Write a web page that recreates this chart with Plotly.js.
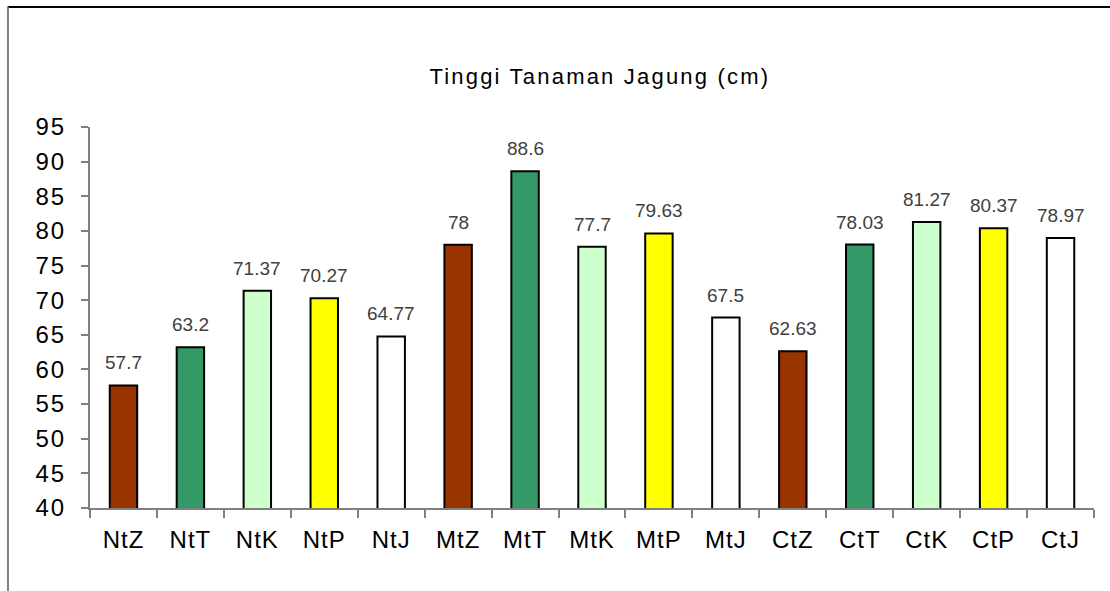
<!DOCTYPE html>
<html><head><meta charset="utf-8">
<script src="https://cdn.plot.ly/plotly-3.0.1.min.js"></script>
<style>
html,body{margin:0;padding:0;background:#fff;}
#chart{width:1110px;height:591px;}
#chart .ytick text{letter-spacing:2px;}
#chart .xtick text{letter-spacing:1px;}
#chart .annotation.title-ann text{letter-spacing:2.2px;}
</style>
</head><body><div id="chart"></div>
<script>
const categories = ["NtZ","NtT","NtK","NtP","NtJ","MtZ","MtT","MtK","MtP","MtJ","CtZ","CtT","CtK","CtP","CtJ"];
const heights = [57.7,63.2,71.37,70.27,64.77,78,88.6,77.7,79.63,67.5,62.63,78.03,81.27,80.37,78.97];
const labels = ["57.7","63.2","71.37","70.27","64.77","78","88.6","77.7","79.63","67.5","62.63","78.03","81.27","80.37","78.97"];
const colors = ["#993300","#339966","#CCFFCC","#FFFF00","#FFFFFF","#993300","#339966","#CCFFCC","#FFFF00","#FFFFFF","#993300","#339966","#CCFFCC","#FFFF00","#FFFFFF"];
const yTicks = [40,45,50,55,60,65,70,75,80,85,90,95];
const titleText = "Tinggi Tanaman Jagung (cm)";

const font = "Liberation Sans, Arial, sans-serif";
const trace = {
  type: "bar", x: categories, y: heights,
  marker: {color: colors, line: {color: "#000", width: 2}},
  hoverinfo: "none"
};
const annotations = categories.map((c,i)=>({
  x: c, y: heights[i], xref: "x", yref: "y", text: labels[i], showarrow: false,
  yanchor: "bottom", yshift: 10, font: {family: font, size: 19, color: "#404040"}
}));
annotations.push({
  xref: "paper", yref: "paper", x: 0.508, y: 1.132, xanchor: "center", yanchor: "middle",
  text: titleText, showarrow: false, name: "title",
  font: {family: font, size: 22, color: "#000"}
});
const layout = {
  width: 1110, height: 591,
  margin: {l: 90, r: 16, t: 127, b: 83},
  paper_bgcolor: "#fff", plot_bgcolor: "#fff",
  showlegend: false, bargap: 0.59,
  xaxis: {
    type: "category", showline: true, linecolor: "#808080", linewidth: 2,
    ticks: "outside", tickson: "boundaries", ticklen: 8, tickcolor: "#808080", tickwidth: 2,
    ticklabelstandoff: 9,
    tickfont: {family: font, size: 24, color: "#000"}, showgrid: false, zeroline: false
  },
  yaxis: {
    range: [40, 95], tickvals: yTicks, ticktext: yTicks.map(String),
    showline: true, linecolor: "#808080", linewidth: 2,
    ticks: "outside", ticklen: 7, tickcolor: "#808080", tickwidth: 2,
    ticklabelstandoff: 10,
    tickfont: {family: font, size: 24, color: "#000"}, showgrid: false, zeroline: false
  },
  annotations: annotations,
  shapes: [
    {type: "line", xref: "paper", yref: "paper", x0: -0.082, x1: 1.02, y0: 1.315, y1: 1.315, line: {color: "#000", width: 2}},
    {type: "line", xref: "paper", yref: "paper", x0: -0.0817, x1: -0.0817, y0: 1.315, y1: -0.3, line: {color: "#808080", width: 2}}
  ]
};
Plotly.newPlot("chart", [trace], layout, {displayModeBar: false, staticPlot: true}).then(gd=>{
  const anns = gd.querySelectorAll(".annotation");
  anns[anns.length-1].classList.add("title-ann");
});
</script></body></html>
